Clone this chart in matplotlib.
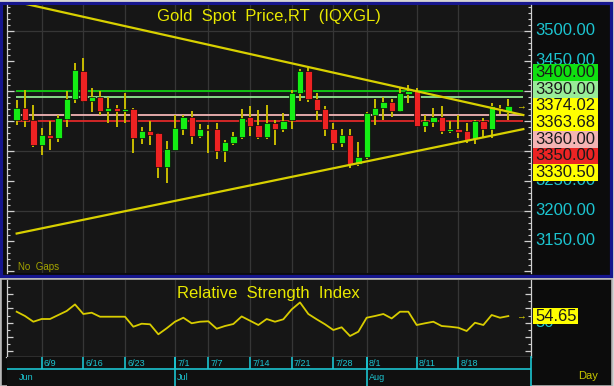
import numpy as np
import pandas as pd
import matplotlib
matplotlib.use('Agg')
import matplotlib.pyplot as plt
import matplotlib.transforms as mtransforms
from matplotlib.patches import Rectangle
from matplotlib.ticker import MultipleLocator

plt.rcParams['font.family'] = ['Liberation Sans', 'DejaVu Sans']

# ---- data ----
dates = pd.bdate_range('2025-06-04', '2025-08-26')

opens = [3351, 3372, 3352, 3309, 3326, 3321, 3353, 3386, 3433, 3383,
         3390, 3367, 3371, 3366, 3369, 3321, 3333, 3329, 3273, 3301,
         3337, 3356, 3325, 3337, 3337, 3300, 3313, 3323, 3356, 3343,
         3323, 3347, 3337, 3351, 3396, 3433, 3386, 3369, 3337, 3313,
         3326, 3278, 3289, 3360, 3371, 3382, 3367, 3395, 3400, 3341,
         3348, 3356, 3333, 3337, 3333, 3319, 3350, 3337, 3372, 3364]
highs = [3384, 3402, 3376, 3338, 3349, 3359, 3400, 3447, 3454, 3405,
         3400, 3390, 3376, 3397, 3371, 3339, 3350, 3330, 3316, 3360,
         3360, 3367, 3345, 3343, 3347, 3318, 3331, 3369, 3375, 3368,
         3376, 3352, 3363, 3402, 3437, 3438, 3396, 3375, 3347, 3336,
         3336, 3315, 3365, 3387, 3390, 3386, 3404, 3410, 3405, 3360,
         3371, 3375, 3350, 3360, 3347, 3352, 3354, 3379, 3377, 3386]
lows = [3343, 3339, 3307, 3293, 3301, 3315, 3339, 3379, 3381, 3365,
        3360, 3347, 3339, 3347, 3296, 3311, 3310, 3255, 3247, 3301,
        3327, 3311, 3322, 3296, 3287, 3282, 3310, 3319, 3325, 3319,
        3319, 3310, 3332, 3337, 3383, 3381, 3351, 3325, 3301, 3307,
        3271, 3275, 3286, 3343, 3351, 3357, 3365, 3379, 3341, 3331,
        3340, 3328, 3330, 3322, 3313, 3311, 3323, 3322, 3361, 3351]
closes = [3372, 3351, 3309, 3326, 3321, 3354, 3386, 3434, 3383, 3390,
          3367, 3371, 3367, 3370, 3321, 3333, 3327, 3273, 3303, 3338,
          3356, 3325, 3337, 3335, 3300, 3315, 3325, 3355, 3341, 3323,
          3347, 3337, 3350, 3397, 3433, 3386, 3368, 3336, 3313, 3326,
          3278, 3290, 3363, 3372, 3381, 3367, 3397, 3400, 3341, 3350,
          3356, 3333, 3337, 3332, 3318, 3350, 3337, 3375, 3368, 3374.02]

rsi = [57.7, 54.7, 50.7, 52.6, 52.6, 55.4, 58.2, 62.8, 56.1, 57.0,
       54.2, 54.2, 54.2, 54.2, 47.2, 49.3, 48.9, 41.9, 46.1, 50.7,
       53.5, 49.6, 50.7, 51.0, 45.8, 47.7, 49.1, 54.4, 51.4, 48.4,
       52.6, 50.7, 52.4, 59.3, 64.2, 56.1, 52.4, 48.9, 44.9, 46.8,
       40.7, 43.7, 53.5, 54.7, 56.1, 53.0, 57.7, 57.7, 48.4, 49.6,
       50.7, 47.7, 47.2, 46.5, 44.2, 50.0, 48.4, 55.4, 53.5, 54.65]

tick_labels = ['6/9', '6/16', '6/23', '7/1', '7/7', '7/14', '7/21',
               '7/28', '8/1', '8/11', '8/18']
month_labels = ['Jun', 'Jul', 'Aug']
month_starts = ['6/4', '7/1', '8/1']

hline_values = [3400, 3390, 3360, 3350]
hline_colors = ['#10d010', '#90e890', '#f2b4b4', '#e02828']

level_values = [3400.00, 3390.00, 3374.02, 3363.68, 3360.00, 3350.00, 3330.50]
level_colors = ['#10e010', '#98ec98', '#ffff00', '#ffff00', '#f4b4b4', '#ec2424', '#ffff00']

axis_prices = [3150, 3200, 3250, 3300, 3350, 3400, 3450, 3500]

upper_trend_x = [0, 60.8]
upper_trend_y = [3548, 3359.5]
lower_trend_x = [0, 60.8]
lower_trend_y = [3162, 3336]

W, H = 614, 386


def px(x0, y0, x1, y1):
    return [x0 / W, 1 - y1 / H, (x1 - x0) / W, (y1 - y0) / H]


fig = plt.figure(figsize=(6.14, 3.86), dpi=100)
fig.patch.set_facecolor('#d4d4d4')

# panel backgrounds / frames
bg = fig.add_axes([0, 0, 1, 1], zorder=-10)
bg.set_xlim(0, W)
bg.set_ylim(H, 0)
bg.axis('off')
bg.add_patch(Rectangle((1.2, 2.6), 609.5, 273.8, fc='#0c0c0c', ec='#16168e', lw=2.3))
bg.add_patch(Rectangle((1.0, 279.0), 611, 106.5, fc='#0c0c0c', ec='#b4b4b4', lw=1.2))

labels_str = [f'{d.month}/{d.day}' for d in dates]
x = np.arange(len(dates))
xlim = (-1.22, 61.66)
tick_pos = [labels_str.index(t) for t in tick_labels]
month_pos = [labels_str.index(t) for t in month_starts]

# ---- main price panel ----
ax = fig.add_axes(px(6.5, 4.5, 530.5, 273))
ax.set_facecolor('#161616')
ax.set_xlim(*xlim)
ax.set_ylim(3096.2, 3543.7)

for t in tick_pos:
    ax.axvline(t, color='#363636', lw=0.9, zorder=0)
for p in [3200, 3300, 3400, 3500]:
    ax.axhline(p, color='#363636', lw=0.9, zorder=0)

for v, col in zip(hline_values, hline_colors):
    ax.hlines(v, -0.1, 60.8, color=col, lw=1.3, zorder=1)

o = np.array(opens, dtype=float)
c = np.array(closes, dtype=float)
up = c >= o
ax.vlines(x, lows, highs, color='#c8bc00', lw=1.4, zorder=2)
body_h = np.maximum(np.abs(c - o), 1.5)
ax.bar(x, body_h, bottom=np.minimum(o, c), width=0.76,
       color=np.where(up, '#14ee14', '#ee2222'), edgecolor='#0a0a0a', lw=0.5, zorder=3)

ax.plot(upper_trend_x, upper_trend_y, color='#d8d000', lw=1.6, zorder=4)
ax.plot(lower_trend_x, lower_trend_y, color='#d8d000', lw=1.6, zorder=4)
ax.text(60.5, closes[-1], '\u2192', color='#e0d800', fontsize=7,
        ha='center', va='center', zorder=5)

ax.text(0.5, 0.955, 'Gold  Spot  Price,RT  (IQXGL)', transform=ax.transAxes,
        color='#e8e800', fontsize=12, ha='center', va='center')
ax.text(0.022, 0.004, 'No  Gaps', transform=ax.transAxes, color='#a4a400',
        fontsize=7, ha='left', va='bottom')

for s in ['top', 'bottom']:
    ax.spines[s].set_visible(False)
for s in ['left', 'right']:
    ax.spines[s].set_color('#d0d0d0')
    ax.spines[s].set_linewidth(0.9)
ax.yaxis.set_major_locator(MultipleLocator(50))
ax.yaxis.set_minor_locator(MultipleLocator(10))
ax.tick_params(axis='y', which='both', direction='in', left=True, right=True,
               labelleft=False, labelright=False, color='#d0d0d0')
ax.tick_params(axis='y', which='major', length=5, width=0.9)
ax.tick_params(axis='y', which='minor', length=2.5, width=0.8)
ax.tick_params(axis='x', which='both', bottom=False, labelbottom=False)

# right price labels (those fully hidden behind the level boxes are not drawn)
tr = mtransforms.blended_transform_factory(ax.transAxes, ax.transData)
box_top = 3444.0
box_h = 27.78
box_bottom = box_top - box_h * len(level_values)
for p in axis_prices:
    if box_bottom + 12 < p < box_top - 12:
        continue
    ax.text(1.0086, p, f'{p:.2f}', transform=tr, color='#1cc4d0', fontsize=12,
            ha='left', va='center', clip_on=False)
for k, (v, col) in enumerate(zip(level_values, level_colors)):
    y0 = box_top - box_h * (k + 1)
    ax.add_patch(Rectangle((1.0053, y0), 0.123, box_h, transform=tr, fc=col,
                           ec='none', clip_on=False, zorder=6))
    ax.text(1.0086, y0 + box_h / 2, f'{v:.2f}', transform=tr, color='#1a1a1a',
            fontsize=12, ha='left', va='center', clip_on=False, zorder=7)

# ---- RSI panel ----
ax2 = fig.add_axes(px(6.5, 280, 530.5, 357))
ax2.set_facecolor('#161616')
ax2.set_xlim(*xlim)
ax2.set_ylim(26.0, 79.9)
for t in tick_pos:
    ax2.axvline(t, color='#363636', lw=0.9, zorder=0)
ax2.plot(x, rsi, color='#d8cc00', lw=1.3, zorder=3)
ax2.text(60.5, rsi[-1], '\u2192', color='#e0d800', fontsize=7,
         ha='center', va='center')
ax2.text(0.5, 0.83, 'Relative  Strength  Index', transform=ax2.transAxes,
         color='#e8e800', fontsize=12, ha='center', va='center')
ax2.spines['top'].set_visible(False)
for s in ['left', 'right', 'bottom']:
    ax2.spines[s].set_color('#d0d0d0')
    ax2.spines[s].set_linewidth(0.9)
ax2.yaxis.set_major_locator(MultipleLocator(10))
ax2.yaxis.set_minor_locator(MultipleLocator(5))
ax2.tick_params(axis='y', which='both', direction='in', left=True, right=True,
                labelleft=False, labelright=False, color='#d0d0d0')
ax2.tick_params(axis='y', which='major', length=4, width=0.9)
ax2.tick_params(axis='y', which='minor', length=2, width=0.8)
ax2.tick_params(axis='x', which='both', bottom=False, labelbottom=False)

tr2 = mtransforms.blended_transform_factory(ax2.transAxes, ax2.transData)
ax2.text(1.0086, 50, '50', transform=tr2, color='#1cc4d0', fontsize=12,
         ha='left', va='center', clip_on=False)
ax2.add_patch(Rectangle((1.0053, rsi[-1] - 5.6), 0.086, 11.2, transform=tr2,
                        fc='#ffff00', ec='none', clip_on=False, zorder=6))
ax2.text(1.0086, rsi[-1], f'{rsi[-1]:.2f}', transform=tr2, color='#1a1a1a',
         fontsize=12, ha='left', va='center', clip_on=False, zorder=7)

# ---- date strip ----
ax3 = fig.add_axes(px(6.5, 357, 530.5, 386))
ax3.set_facecolor('#101010')
ax3.set_xlim(*xlim)
ax3.set_ylim(0, 1)
ax3.axhline(0.586, color='#1cc4d0', lw=1.2)
for t, lab in zip(tick_pos, tick_labels):
    ax3.vlines(t, 0.586, 1, color='#1cc4d0', lw=1.2)
    ax3.text(t + 0.25, 0.78, lab, color='#1cc4d0', fontsize=6.5,
             ha='left', va='center')
for k, (t, lab) in enumerate(zip(month_pos, month_labels)):
    if k > 0:
        ax3.vlines(t, 0, 1, color='#1cc4d0', lw=1.2)
    ax3.text(t + 0.25, 0.29, lab, color='#1cc4d0', fontsize=6.5,
             ha='left', va='center')
for s in ['top', 'bottom', 'left']:
    ax3.spines[s].set_visible(False)
ax3.spines['right'].set_color('#1cc4d0')
ax3.spines['right'].set_linewidth(1.2)
ax3.set_xticks([])
ax3.set_yticks([])
ax3.text(1.091, 0.36, 'Day', transform=ax3.transAxes, color='#c8c800',
         fontsize=8, ha='left', va='center')

fig.savefig('out.png', dpi=100, facecolor=fig.get_facecolor())
